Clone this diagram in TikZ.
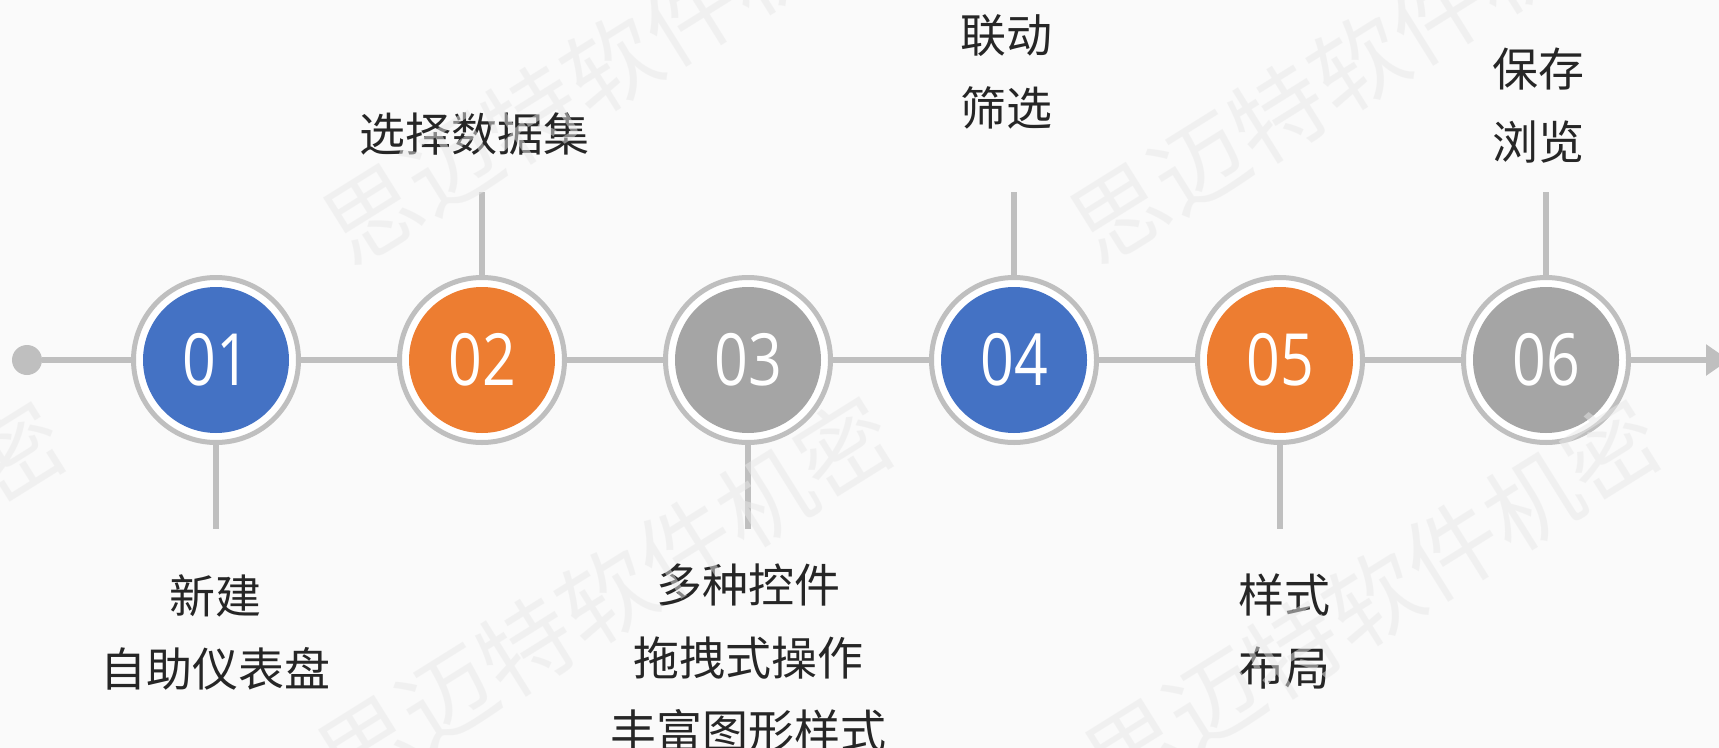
\documentclass[tikz,border=0pt]{standalone}
\usepackage{fontspec}
\setmainfont{Noto Sans CJK SC}
\newfontfamily\numfont{Open Sans}[FakeStretch=0.82]
\usetikzlibrary{arrows.meta}
\definecolor{cblue}{HTML}{4472C4}
\definecolor{corange}{HTML}{ED7D31}
\definecolor{cgray}{HTML}{A5A5A5}
\definecolor{lgray}{HTML}{BFBFBF}
\definecolor{bggray}{HTML}{FAFAFA}
\definecolor{txtgray}{HTML}{262626}
\definecolor{wmgray}{HTML}{E8E8E8}
\tikzset{
every picture/.style={x=1bp,y=-1bp}
}
\tikzset{
  ring/.style={circle, draw=lgray, line width=5bp, fill=white, minimum size=165bp, inner sep=0pt},
  disc/.style={circle, minimum size=146bp, inner sep=0pt, text=white,
    font=\numfont\fontsize{72bp}{80bp}\selectfont},
  track/.style={draw=lgray, line width=6.5bp},
  tick/.style={draw=lgray, line width=6bp},
  desc/.style={text=txtgray, align=center, inner sep=0pt,
    font=\fontsize{46bp}{73bp}\selectfont},
  wm/.style={text=wmgray, text opacity=0.5, rotate=32, inner sep=0pt,
    font=\fontsize{93.7bp}{100bp}\selectfont}
}
\begin{document}
\begin{tikzpicture}
    \useasboundingbox (0,0) rectangle (1719,748);
    \fill[bggray] (0,0) rectangle (1719,748);
    \foreach \i/\c in {1/cblue,2/corange,3/cgray,4/cblue,5/corange,6/cgray} {
      \node[ring] (r\i) at ({216+266*(\i-1)},360) {};
      \node[disc, fill=\c] (n\i) at (r\i) {0\i};
    }
    \node[circle, fill=lgray, minimum size=30bp, inner sep=0pt] (dot) at (27,360) {};
    \coordinate (end) at (1729,360);
    \draw[track] (dot) -- (r1);
    \foreach \i/\j in {1/2,2/3,3/4,4/5,5/6} {
      \draw[track] (r\i) -- (r\j);
    }
    \draw[track, -{Triangle[length=23bp,width=30bp]}] (r6) -- (end);
    \foreach \i/\y in {1/529,2/192,3/529,4/192,5/529,6/192} {
      \coordinate (t\i) at ({216+266*(\i-1)},\y);
      \draw[tick] (r\i) -- (t\i);
    }
    \node[desc] (d1) at (215,632) {新建\\自助仪表盘};
    \node[desc] (d2) at (474,134) {选择数据集};
    \node[desc] (d3) at (748,658) {多种控件\\拖拽式操作\\丰富图形样式};
    \node[desc] (d4) at (1006,71.5) {联动\\筛选};
    \node[desc] (d5) at (1284,631) {样式\\布局};
    \node[desc] (d6) at (1538,106) {保存\\浏览};
    \foreach \x/\y [count=\k] in {611/64,1358/63,606/596,1373/599,-222/601} {
      \node[wm] (w\k) at (\x,\y) {思迈特软件机密};
    }
\end{tikzpicture}
\end{document}
